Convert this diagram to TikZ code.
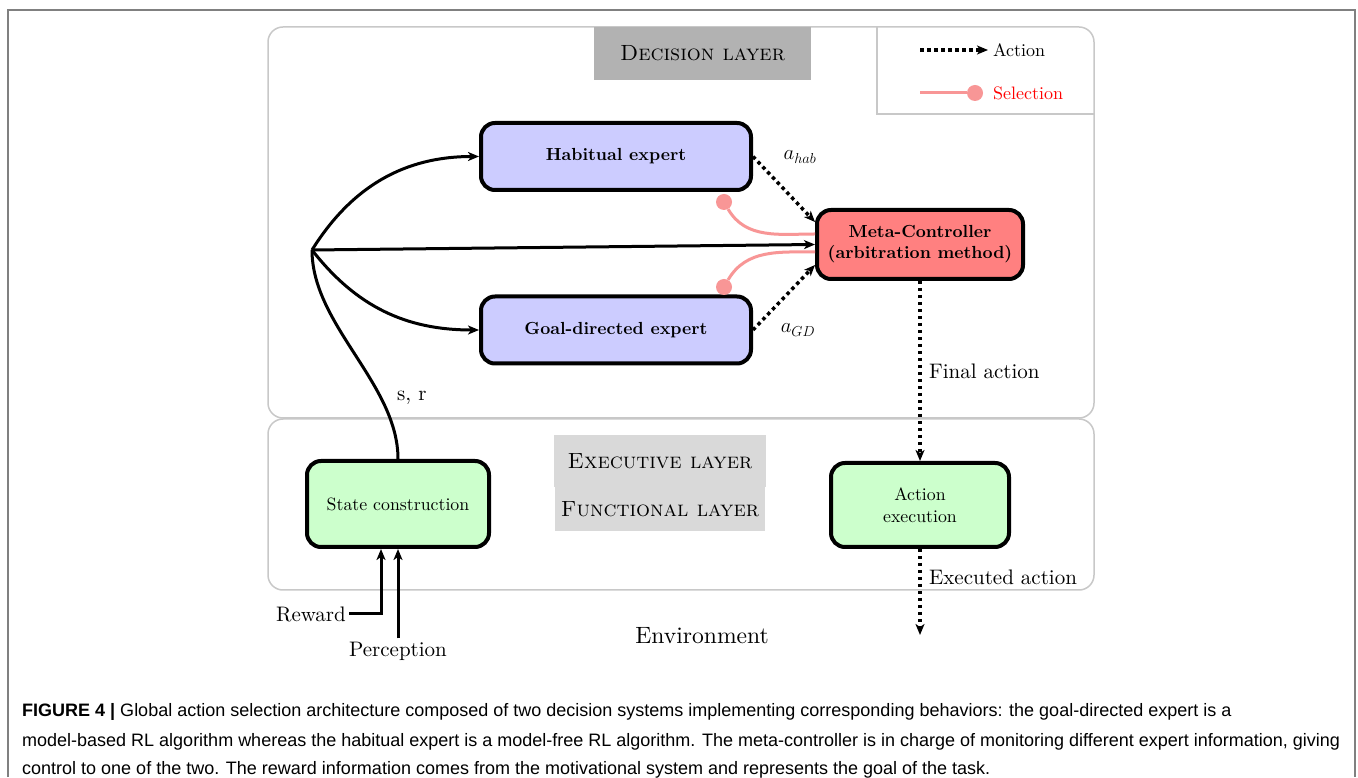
\documentclass[tikz,border=0pt]{standalone}
\usepackage{fontspec}
\setmainfont{lmroman10-regular.otf}[BoldFont=lmroman10-bold.otf,ItalicFont=lmroman10-italic.otf,BoldItalicFont=lmroman10-bolditalic.otf,SmallCapsFont=lmromancaps10-regular.otf]
\newfontfamily\capfont{Liberation Sans}
\usetikzlibrary{arrows.meta,calc}
\definecolor{framegray}{RGB}{128,128,128}
\definecolor{layergray}{RGB}{200,200,200}
\definecolor{selpink}{RGB}{248,150,150}
\begin{document}
\begin{tikzpicture}[x=1pt,y=1pt,
  box/.style={draw=black,line width=4pt,rounded corners=14pt,align=center,inner sep=2pt},
  expert/.style={box,fill=blue!20,minimum width=270pt,minimum height=67pt,font=\fontsize{17.5}{21}\selectfont\bfseries},
  metabox/.style={box,fill=red!50,minimum width=206pt,minimum height=69pt,font=\fontsize{17.5}{21}\selectfont\bfseries},
  funcbox/.style={box,fill=green!20,font=\fontsize{17.8}{22}\selectfont},
  layer/.style={draw=layergray,line width=1.5pt,rounded corners=15pt},
  layerlabel/.style={inner sep=0pt,font=\fontsize{22}{26}\selectfont\scshape},
  tip/.style={-{Stealth[length=11pt,width=9pt,inset=3pt]}},
  flow/.style={tip,line width=3pt,draw=black},
  plain/.style={line width=3pt,draw=black},
  act/.style={tip,line width=3.5pt,draw=black,dash pattern=on 3.5pt off 3.5pt},
  sel/.style={line width=3pt,draw=selpink},
  seldot/.style={circle,fill=selpink,inner sep=0pt,minimum size=16pt},
  lbl/.style={font=\fontsize{21}{25}\selectfont},
  leg/.style={font=\fontsize{18}{22}\selectfont,anchor=west,inner sep=0pt},
  captext/.style={anchor=base west,inner sep=0pt,font=\capfont\fontsize{18}{21}\selectfont}
]
\useasboundingbox (0,0) rectangle (1358,777);
\fill[white] (0,0) rectangle (1358,777);
% outer figure frame
\draw[framegray,line width=2pt] (8,0) -- (8,767) -- (1355,767) -- (1355,0);

% layers
\draw[layer] (268,359) rectangle (1094,750);
\draw[layer] (268,187) rectangle (1094,358);
\node[layerlabel,fill=gray!60,minimum width=217pt,minimum height=53pt] (declbl) at (702.5,723.5) {Decision layer};
\node[layerlabel,fill=gray!30,minimum width=212pt,minimum height=52pt] (exelbl) at (660,316) {Executive layer};
\node[layerlabel,fill=gray!30,minimum width=210pt,minimum height=44pt] (funlbl) at (660,268) {Functional layer};

% legend
\draw[layergray,line width=1.5pt] (877,750) -- (877,663) -- (1094,663);
\coordinate (la1) at (920,727);
\coordinate (la2) at (988,727);
\draw[act] (la1) -- (la2);
\node[leg] (legact) at (993,727) {Action};
\coordinate (ls1) at (920,684);
\node[seldot] (ls2) at (975,684) {};
\draw[sel] (ls1) -- (ls2);
\node[leg,text=red] (legsel) at (993,684) {Selection};

% nodes
\node[expert] (hab) at (616,620.5) {Habitual expert};
\node[expert] (gd) at (616,447) {Goal-directed expert};
\node[metabox] (meta) at (920,532.5) {Meta-Controller\\(arbitration method)};
\node[funcbox,minimum width=182pt,minimum height=86pt] (state) at (398,273) {State construction};
\node[funcbox,minimum width=178pt,minimum height=84pt] (exec) at (920,272) {Action\\execution};
\coordinate (hub) at (312,527);

% state to experts
\draw[plain] (state.north) to[out=90,in=-90,looseness=0.85] (hub);
\node[lbl,anchor=west,inner sep=0pt] (sr) at (397,379) {s, r};
\draw[flow] (hub) to[out=58,in=180] (hab.west);
\draw[flow] (hub) to[out=-52,in=180] (gd.west);
\draw[flow] (hub) -- (meta.west);

% actions
\draw[act] (hab.east) -- ([yshift=22.5pt]meta.west);
\draw[act] (gd.east) -- ([yshift=-20.5pt]meta.west);
\node[lbl,anchor=center] (ahab) at (800,620) {$a_{hab}$};
\node[lbl,anchor=center] (agd) at (798,447) {$a_{GD}$};

% selection
\node[seldot] (selh) at (724,575) {};
\node[seldot] (selg) at (724,490) {};
\draw[sel] (selh) to[out=-60,in=180] ([yshift=10.5pt]meta.west);
\draw[sel] (selg) to[out=60,in=180] ([yshift=-7.5pt]meta.west);

% final action
\draw[act] (meta.south) -- (exec.north) node[lbl,pos=0.5,anchor=west,xshift=4pt] (fa) {Final action};
\coordinate (envend) at (920,142);
\draw[act] (exec.south) -- (envend) node[lbl,pos=0.33,anchor=west,xshift=4pt] (ea) {Executed action};

% inputs
\node[lbl] (rw) at (311,163) {Reward};
\node[lbl] (perc) at (398,126) {Perception};
\draw[flow] (rw.east) -| ([xshift=-17pt]state.south);
\draw[flow] (perc.north) -- (state.south);
\node[font=\fontsize{23.6}{28}\selectfont] (env) at (702,141) {Environment};

% caption
\node[captext] (c1) at (22,60) {\textbf{FIGURE 4 |} Global action selection architecture composed of two decision systems implementing corresponding behaviors: the goal-directed expert is a};
\node[captext] (c2) at (22,31) {model-based RL algorithm whereas the habitual expert is a model-free RL algorithm. The meta-controller is in charge of monitoring different expert information, giving};
\node[captext] (c3) at (22,3) {control to one of the two. The reward information comes from the motivational system and represents the goal of the task.};
\end{tikzpicture}
\end{document}
